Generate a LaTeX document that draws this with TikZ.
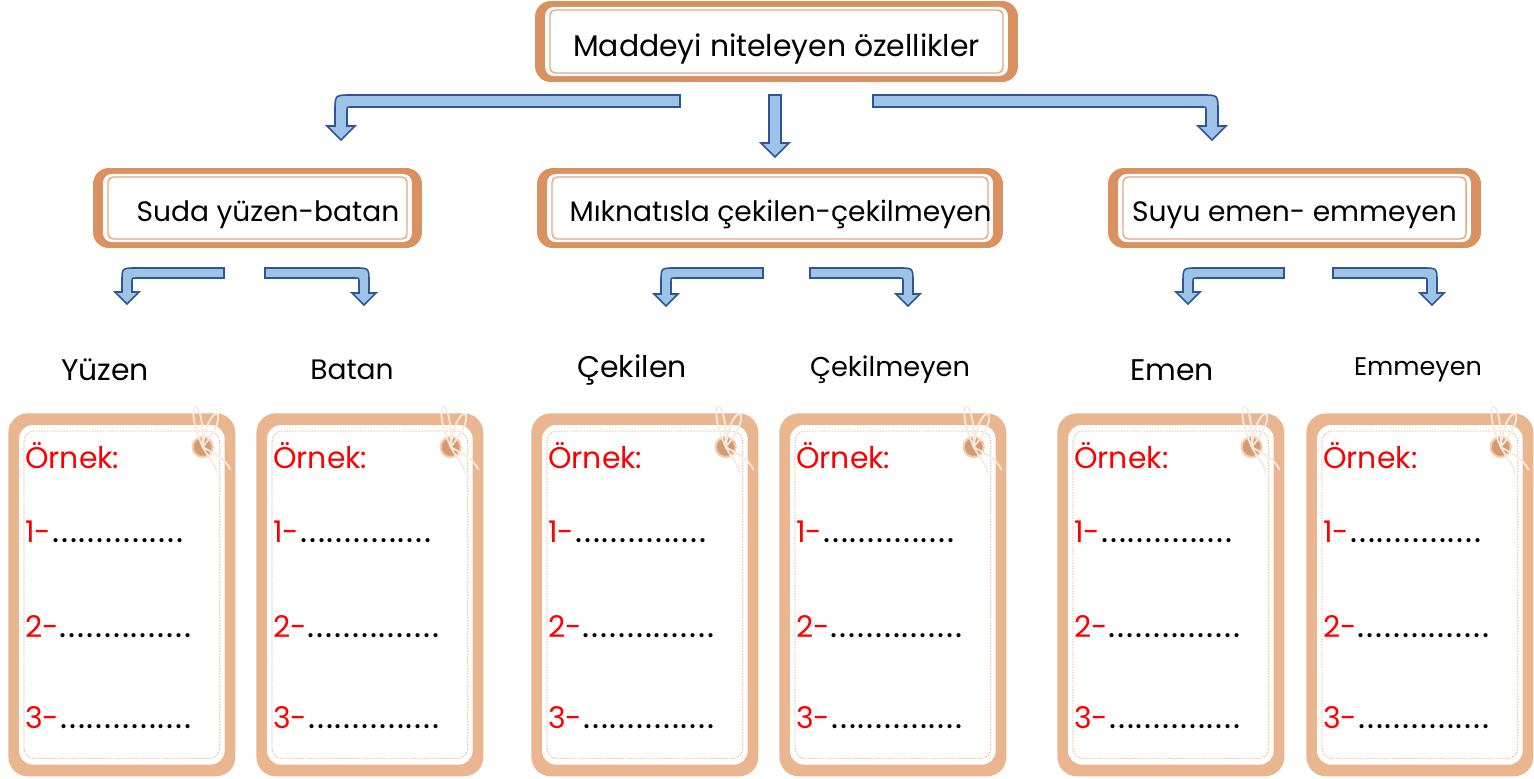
\documentclass[tikz,border=0pt]{standalone}
\usepackage{fontspec}
\setmainfont{Poppins}
\usetikzlibrary{positioning,calc}

\definecolor{boxorange}{HTML}{D8915F}
\definecolor{boxline}{HTML}{E4A880}
\definecolor{cardtan}{HTML}{E9B690}
\definecolor{cardring}{HTML}{D49A72}
\definecolor{stringcol}{HTML}{F8EADF}
\definecolor{arrowfill}{HTML}{9DC3E6}
\definecolor{arrowline}{HTML}{2F5597}

\newcommand{\headfont}{\fontsize{17}{20}\selectfont}
\newcommand{\groupfont}{\fontsize{16}{19}\selectfont}
\newcommand{\cardfont}{\fontsize{17}{20}\selectfont}
\newcommand{\blank}{\textcolor{black}{\fontsize{19}{20}\selectfont\hbox to 2.84cm{\leaders\hbox to 0.1775cm{\hss.\hss}\hfill}}}

% bent block arrow: side (-1 left, 1 right), tail x, shaft x, top y, tip y, width
\newcommand{\bendarrow}[6]{%
  \draw[blockarrow] (#2,#4)
    -- ({#3+(#1)*(#6/2-#6-4)},#4)
    .. controls ({#3+(#1)*#6/2},#4) .. ({#3+(#1)*#6/2},{#4+#6+4})
    -- ({#3+(#1)*#6/2},{#5-#6-2})
    -- ({#3+(#1)*(#6+2)},{#5-#6-2})
    -- (#3,#5)
    -- ({#3-(#1)*(#6+2)},{#5-#6-2})
    -- ({#3-(#1)*#6/2},{#5-#6-2})
    -- ({#3-(#1)*#6/2},{#4+#6+4})
    .. controls ({#3-(#1)*#6/2},{#4+#6}) .. ({#3-(#1)*(#6/2+4)},{#4+#6})
    -- (#2,{#4+#6}) -- cycle;}

\begin{document}
\begin{tikzpicture}[
    x=0.02cm, y=-0.02cm,
    head/.style={fill=boxorange, rounded corners=9pt, inner sep=0pt, font=\headfont,
      text height=19pt, text depth=1.4pt,
      path picture={
        \fill[white, rounded corners=5pt]
          ($(path picture bounding box.north west)+(5.7pt,-3.4pt)$) rectangle
          ($(path picture bounding box.south east)+(-5.7pt,3.4pt)$);
        \draw[boxline, line width=0.8pt, rounded corners=3pt]
          ($(path picture bounding box.north west)+(8.5pt,-5.1pt)$) rectangle
          ($(path picture bounding box.south east)+(-8.5pt,5.1pt)$);
      }},
    group/.style={head, font=\groupfont, text height=17pt, text depth=1.2pt},
    card/.style={fill=cardtan, rounded corners=11pt, minimum width=4.54cm, minimum height=7.26cm, inner sep=0pt},
    cardin/.style={fill=white, rounded corners=8pt},
    cardedge/.style={draw=boxorange!80, line width=0.4pt, dash pattern=on 0.8pt off 0.8pt, rounded corners=6pt},
    ring/.style={circle, fill=cardring, draw=cardtan!70!white, line width=1.2pt, minimum size=0.4cm, inner sep=0pt},
    string/.style={draw=stringcol, line width=1pt},
    kind/.style={inner sep=0pt},
    entry/.style={font=\cardfont, text=red, anchor=base west, inner sep=0pt},
    blockarrow/.style={fill=arrowfill, draw=arrowline, line width=0.9pt, line join=miter}
]
\useasboundingbox (0,0) rectangle (1534,778);

% Title
\node[head, minimum width=9.66cm, minimum height=1.62cm] (top) at (776.5,41.5) {Maddeyi niteleyen özellikler};

% Groups
\node[group, minimum width=6.58cm, minimum height=1.6cm] (swim) at (257.5,208) {\hspace{12pt}Suda yüzen-batan};
\node[group, minimum width=9.32cm, minimum height=1.6cm] (magnet) at (770,208) {\hspace{12pt}Mıknatısla çekilen-çekilmeyen};
\node[group, minimum width=7.46cm, minimum height=1.6cm] (soak) at (1294.5,208) {Suyu emen- emmeyen};

% Arrows from the title
\bendarrow{-1}{680}{341}{95}{140}{12}
\draw[blockarrow] (769,95) -- (781,95) -- (781,143) -- (789,143) -- (775,157)
  -- (761,143) -- (769,143) -- cycle;
\bendarrow{1}{873}{1212}{95}{140}{12}

% Arrows from the groups
\bendarrow{-1}{224}{127}{268}{304}{10}
\bendarrow{1}{265}{364}{268}{305}{10}
\bendarrow{-1}{763}{666}{268}{306}{10}
\bendarrow{1}{810}{908}{268}{306}{10}
\bendarrow{-1}{1284}{1188}{268}{304}{10}
\bendarrow{1}{1333}{1432}{268}{305}{10}

% Cards
\foreach \i/\x/\lx/\fs/\lbl in {1/8/105/17/Yüzen, 2/256/352/16/Batan, 3/531/632/17/Çekilen,
    4/779/890/15.5/Çekilmeyen, 5/1057/1172/17/Emen, 6/1306/1418/14.5/Emmeyen} {
  \node[kind, font=\fontsize{\fs}{20}\selectfont] (k\i) at (\lx,370) {\lbl};
  \node[card, anchor=north west] (c\i) at (\x,413) {};
  \fill[cardin] ($(c\i.north west)+(11,12)$) rectangle ($(c\i.south east)+(-11,-12)$);
  \draw[cardedge] ($(c\i.north west)+(16,18)$) rectangle ($(c\i.south east)+(-16,-18)$);
  \node[ring] (r\i) at ($(c\i.north east)+(-33,34)$) {};
  \draw[string] (r\i.center) .. controls +(-22,-50) and +(2,-58) .. (r\i.center);
  \draw[string] (r\i.center) .. controls +(6,-50) and +(32,-38) .. (r\i.center);
  \draw[string] (r\i.center) .. controls +(14,8) and +(-6,-12) .. +(28,23);
  \draw[string] (r\i.center) .. controls +(8,14) and +(-2,-10) .. +(14,26);
  \node[entry] (e\i) at ($(c\i.north west)+(17,55)$) {Örnek:};
  \node[entry] (a\i) at ($(c\i.north west)+(17,129)$) {1-\blank};
  \node[entry] (b\i) at ($(c\i.north west)+(17,224)$) {2-\blank};
  \node[entry] (d\i) at ($(c\i.north west)+(17,315)$) {3-\blank};
}

\end{tikzpicture}
\end{document}
